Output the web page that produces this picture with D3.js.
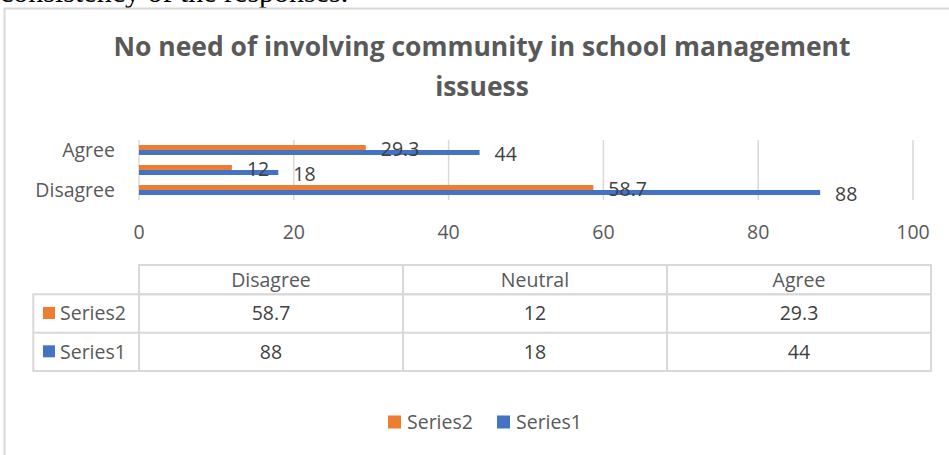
<!DOCTYPE html>
<html>
<head>
<meta charset="utf-8">
<script src="https://cdn.jsdelivr.net/npm/d3@7"></script>
<style>
  html, body { margin: 0; padding: 0; background: #fff; }
  svg { display: block; }
</style>
</head>
<body>
<div id="chart"></div>
<script>
// ---- data ----
const categories = ["Disagree", "Neutral", "Agree"];
const series1 = [88, 18, 44];
const series2 = [58.7, 12, 29.3];
const seriesNames = ["Series2", "Series1"];
const xTicks = [0, 20, 40, 60, 80, 100];
const titleLines = ["No need of involving community in school management", "issuess"];
const aboveText = "consistency of the responses.";

const seriesValues = { "Series1": series1, "Series2": series2 };
const colors = { "Series2": "#ED7D31", "Series1": "#4472C4" };

const W = 949, H = 455;
const FONT = "'Open Sans', 'Noto Sans', sans-serif";
const FS = 19.5;

const svg = d3.select("#chart").append("svg")
  .attr("width", W).attr("height", H)
  .style("font-family", FONT);

svg.append("rect").attr("width", W).attr("height", H).attr("fill", "#fff");

// text above the chart (cut off document text)
svg.append("text").attr("x", 0).attr("y", 2)
  .attr("font-family", "'Liberation Serif', serif")
  .attr("font-size", 30).attr("fill", "#000")
  .text(aboveText);

// chart frame
svg.append("rect").attr("x", 4.5).attr("y", 8.5)
  .attr("width", 960).attr("height", 470)
  .attr("fill", "#fff").attr("stroke", "#d9d9d9").attr("stroke-width", 2);

// title
const titleG = svg.append("g");
const t1 = titleG.append("text").attr("x", 482).attr("y", 56)
  .attr("text-anchor", "middle").attr("font-weight", "bold")
  .attr("fill", "#595959").attr("font-size", 24).text(titleLines[0]);
const len = t1.node().getComputedTextLength();
const fs = 24 * 737 / len;
t1.attr("font-size", fs);
titleG.append("text").attr("x", 482).attr("y", 96)
  .attr("text-anchor", "middle").attr("font-weight", "bold")
  .attr("fill", "#595959").attr("font-size", fs).text(titleLines[1]);

// scales
const x = d3.scaleLinear().domain([0, 100]).range([139, 913]);
const y = d3.scaleBand().domain(categories.slice().reverse())
  .range([140, 200]).paddingInner(0.5).paddingOuter(0.25);
const yInner = d3.scaleBand().domain(seriesNames).range([0, y.bandwidth()]);

// gridlines
svg.append("g").selectAll("line").data(xTicks).join("line")
  .attr("x1", d => x(d)).attr("x2", d => x(d))
  .attr("y1", 140).attr("y2", 200)
  .attr("stroke", "#d9d9d9").attr("stroke-width", 1.5);

// x tick labels
svg.append("g").selectAll("text").data(xTicks).join("text")
  .attr("x", d => x(d)).attr("y", 239)
  .attr("text-anchor", "middle").attr("font-size", FS)
  .attr("fill", "#595959").text(d => d);

// category labels (Excel skips the middle one)
svg.append("g").selectAll("text")
  .data(categories.filter((c, i) => i % 2 === 0)).join("text")
  .attr("x", 115).attr("y", d => y(d) + y.bandwidth() / 2 + 7)
  .attr("text-anchor", "end").attr("font-size", FS)
  .attr("fill", "#595959").text(d => d);

// bars
const barData = [];
categories.forEach((c, i) => {
  seriesNames.forEach(s => barData.push({ cat: c, s, v: seriesValues[s][i] }));
});
svg.append("g").selectAll("rect").data(barData).join("rect")
  .attr("x", x(0))
  .attr("y", d => y(d.cat) + yInner(d.s))
  .attr("width", d => x(d.v) - x(0))
  .attr("height", yInner.bandwidth())
  .attr("fill", d => colors[d.s]);

// data labels
svg.append("g").selectAll("text").data(barData).join("text")
  .attr("x", d => x(d.v) + 15)
  .attr("y", d => y(d.cat) + yInner(d.s) + yInner.bandwidth() / 2 + 8)
  .attr("font-size", FS).attr("fill", "#404040")
  .text(d => d.v);

// data table
const colX = d3.scaleBand().domain(categories).range([139, 931]);
const rowY = d3.scaleBand().domain(seriesNames).range([294.3, 371]);
const tbl = svg.append("g").attr("stroke", "#d9d9d9").attr("stroke-width", 2).attr("fill", "none");
tbl.append("rect").attr("x", 139).attr("y", 265).attr("width", 931 - 139).attr("height", 294.3 - 265);
tbl.append("rect").attr("x", 33.3).attr("y", 294.3).attr("width", 931 - 33.3).attr("height", 371 - 294.3);
tbl.append("line").attr("x1", 33.3).attr("x2", 931).attr("y1", rowY("Series1")).attr("y2", rowY("Series1"));
categories.forEach(c => {
  tbl.append("line").attr("x1", colX(c)).attr("x2", colX(c)).attr("y1", 265).attr("y2", 371);
});

svg.append("g").selectAll("text").data(categories).join("text")
  .attr("x", d => colX(d) + colX.bandwidth() / 2).attr("y", 286.5)
  .attr("text-anchor", "middle").attr("font-size", FS).attr("fill", "#595959")
  .text(d => d);

const cellData = [];
seriesNames.forEach(s => categories.forEach((c, i) => cellData.push({ s, c, v: seriesValues[s][i] })));
svg.append("g").selectAll("text").data(cellData).join("text")
  .attr("x", d => colX(d.c) + colX.bandwidth() / 2)
  .attr("y", d => rowY(d.s) + rowY.bandwidth() / 2 + 7)
  .attr("text-anchor", "middle").attr("font-size", FS).attr("fill", "#404040")
  .text(d => d.v);

// row headers with keys
const rowHead = svg.append("g").selectAll("g").data(seriesNames).join("g")
  .attr("transform", d => `translate(0,${rowY(d) + rowY.bandwidth() / 2})`);
rowHead.append("rect").attr("x", 43).attr("y", -6.5).attr("width", 12).attr("height", 12)
  .attr("fill", d => colors[d]);
rowHead.append("text").attr("x", 60).attr("y", 7)
  .attr("font-size", FS).attr("fill", "#595959").text(d => d);

// legend
const legend = svg.append("g").selectAll("g").data(seriesNames).join("g")
  .attr("transform", (d, i) => `translate(${388 + i * 109},422)`);
legend.append("rect").attr("x", 0).attr("y", -6.5).attr("width", 13).attr("height", 13)
  .attr("fill", d => colors[d]);
legend.append("text").attr("x", 19).attr("y", 7)
  .attr("font-size", FS).attr("fill", "#595959").text(d => d);
</script>
</body>
</html>
